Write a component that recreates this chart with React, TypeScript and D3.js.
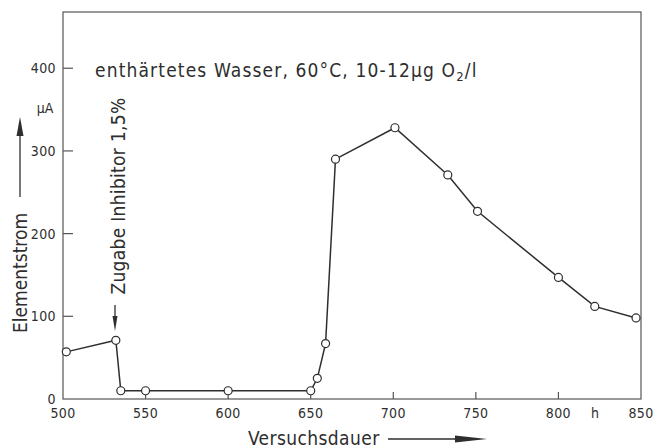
import React from 'react';
import * as d3 from 'd3';

// Versuchsdauer (h) and Elementstrom (µA)
const hours = [502, 532, 535, 550, 600, 650, 654, 659, 665, 701, 733, 751, 800, 822, 847];
const current = [57, 71, 10, 10, 10, 10, 25, 67, 290, 328, 271, 227, 147, 112, 98];

const xTicks = [500, 550, 600, 650, 700, 750, 800, 850];
const yTicks = [0, 100, 200, 300, 400];

const W = 665;
const H = 448;
const FONT = "'DejaVu Sans Condensed', 'Liberation Sans Narrow', 'DejaVu Sans', sans-serif";
const INK = '#2e2e2e';

export default function App() {
  const left = 63, right = 641, top = 12, bottom = 399;

  const x = d3.scaleLinear().domain([500, 850]).range([left, right]);
  const y = d3.scaleLinear().domain([0, 468]).range([bottom, top]);

  const pts = hours.map((h, i) => [h, current[i]] as [number, number]);
  const line = d3.line<[number, number]>()
    .x(d => x(d[0]))
    .y(d => y(d[1]));

  return (
    <svg width={W} height={H} style={{ position: 'absolute', left: 0, top: 0, background: '#fff' }}
      fontFamily={FONT} fill={INK}>
      {/* frame */}
      <rect x={left} y={top} width={right - left} height={bottom - top}
        fill="none" stroke="#555" strokeWidth={1.2} />

      {/* y ticks */}
      {yTicks.map(t => (
        <g key={'y' + t}>
          {t > 0 && <line x1={left} x2={left + 10} y1={y(t)} y2={y(t)} stroke="#555" strokeWidth={1.2} />}
          <text x={56} y={y(t) + 5} textAnchor="end" fontSize={14} letterSpacing={0.4}
            style={{ fontStretch: 'condensed' }}>{t}</text>
        </g>
      ))}

      {/* x ticks */}
      {xTicks.map(t => (
        <g key={'x' + t}>
          {t > 500 && t < 850 && <line x1={x(t)} x2={x(t)} y1={bottom} y2={bottom - 7} stroke="#555" strokeWidth={1.2} />}
          <text x={x(t)} y={418} textAnchor="middle" fontSize={14} letterSpacing={0.4}
            style={{ fontStretch: 'condensed' }}>{t}</text>
        </g>
      ))}
      <text x={595} y={418} textAnchor="middle" fontSize={14}>h</text>

      {/* unit */}
      <text x={45} y={113} textAnchor="middle" fontSize={14} style={{ fontStretch: 'condensed' }}>µA</text>

      {/* y title + arrow */}
      <text transform="translate(27,273) rotate(-90)" textAnchor="middle" fontSize={19}
        style={{ fontStretch: 'condensed' }}>Elementstrom</text>
      <line x1={20} x2={20} y1={197} y2={132} stroke={INK} strokeWidth={1.3} />
      <path d="M20,117 L16.5,136 L23.5,136 Z" fill={INK} />

      {/* x title + arrow */}
      <text x={248} y={445} fontSize={19} letterSpacing={0.4} style={{ fontStretch: 'condensed' }}>Versuchsdauer</text>
      <line x1={388} x2={462} y1={439} y2={439} stroke={INK} strokeWidth={1.3} />
      <path d="M487,439 L455,435.5 L455,442.5 Z" fill={INK} />

      {/* annotation */}
      <text x={95} y={77} fontSize={19} letterSpacing={1.15} style={{ fontStretch: 'condensed' }}>
        enthärtetes Wasser, 60°C, 10-12µg O<tspan fontSize={13} dy={4}>2</tspan><tspan dy={-4}>/l</tspan>
      </text>
      <text transform="translate(125,196) rotate(-90)" textAnchor="middle" fontSize={19} letterSpacing={0.3}
        style={{ fontStretch: 'condensed' }}>Zugabe Inhibitor 1,5%</text>
      <line x1={115} x2={115} y1={305} y2={320} stroke={INK} strokeWidth={1.3} />
      <path d="M115,331 L112.5,316 L117.5,316 Z" fill={INK} />

      {/* data */}
      <path d={line(pts) ?? ''} fill="none" stroke={INK} strokeWidth={1.5} />
      {pts.map((d, i) => (
        <circle key={i} cx={x(d[0])} cy={y(d[1])} r={4} fill="#fff" stroke={INK} strokeWidth={1.2} />
      ))}
    </svg>
  );
}
